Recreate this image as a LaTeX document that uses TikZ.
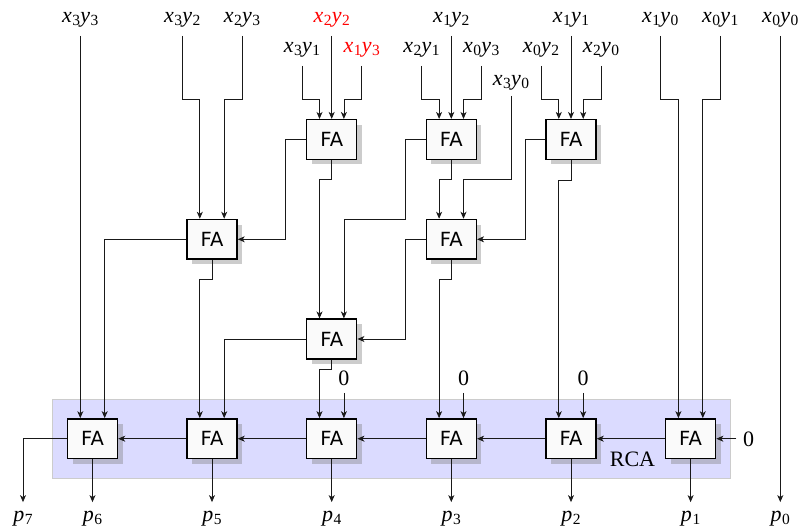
\documentclass[tikz,border=0pt]{standalone}
\usepackage{fontspec}
\setmainfont{Liberation Serif}
\setsansfont{DejaVu Sans}
\usetikzlibrary{arrows.meta,shadows,calc}
\newcommand{\sbs}[1]{\raisebox{-3.2pt}{\fontsize{15.5}{15.5}\selectfont #1}}
\newcommand{\pr}[2]{\textit{x}\kern0.4pt\sbs{#1}\kern0.3pt\textit{y}\kern0.4pt\sbs{#2}}
\newcommand{\pp}[1]{\textit{p}\kern0.6pt\sbs{#1}}
\tikzset{
  fa/.style={draw=black,line width=1.5pt,fill=black!2,minimum width=50pt,minimum height=39.6pt,inner sep=0pt,
    font=\sffamily\fontsize{19.5}{20}\selectfont,
    general shadow={shadow xshift=5pt,shadow yshift=-5pt,fill=black!50,fill opacity=0.4}},
  lbl/.style={inner sep=0pt,text height=11pt,text depth=5pt,font=\fontsize{22}{24}\selectfont},
  wire/.style={line width=0.8pt,black!90},
  arr/.style={wire,-{Stealth[length=7pt,width=6pt,inset=2pt]}},
  band/.style={draw=black!20,line width=1pt,fill=blue!14}
}
\begin{document}
\begin{tikzpicture}[x=1pt,y=-1pt]
\useasboundingbox (0,0) rectangle (801,531);
\node[band,minimum width=678pt,minimum height=79.3pt,inner sep=0pt] (rca) at (391.3,438.7) {};
% adders
\foreach \n/\x/\y in {a/331.7/139.5,b/451.3/139.5,c/571/139.5,d/212/239.3,e/451.3/239.3,f/331.7/339,
  g/92.5/438.7,h/212/438.7,i/331.7/438.7,j/451.3/438.7,k/571/438.7,l/690.6/438.7}
  \node[fa] (\n) at (\x,\y) {FA};
% labels
\node[lbl] (x3y3) at (80.3,19) {\pr33};
\node[lbl] (x3y2) at (182.3,19) {\pr32};
\node[lbl] (x2y3) at (242,19) {\pr23};
\node[lbl,red] (x2y2) at (331.7,19) {\pr22};
\node[lbl] (x1y2) at (451.3,19) {\pr12};
\node[lbl] (x1y1) at (571,19) {\pr11};
\node[lbl] (x1y0) at (660.3,19) {\pr10};
\node[lbl] (x0y1) at (720.3,19) {\pr01};
\node[lbl] (x0y0) at (780.3,19) {\pr00};
\node[lbl] (x3y1) at (302,49) {\pr31};
\node[lbl,red] (x1y3) at (361.7,49) {\pr13};
\node[lbl] (x2y1) at (421.5,49) {\pr21};
\node[lbl] (x0y3) at (481.3,49) {\pr03};
\node[lbl] (x0y2) at (541,49) {\pr02};
\node[lbl] (x2y0) at (601,49) {\pr20};
\node[lbl] (x3y0) at (511,82) {\pr30};
\foreach \n/\x/\t in {p7/23/7,p6/92.5/6,p5/212/5,p4/331.7/4,p3/451.3/3,p2/571/2,p1/690.6/1,p0/780.3/0}
  \node[lbl] (\n) at (\x,518.6) {\pp{\t}};
\foreach \n/\x in {zi/343.9,zj/463.5,zk/583.2}
  \node[lbl] (\n) at (\x,382) {0};
\node[lbl] (zl) at (748.7,443) {0};
\node[lbl] (rcat) at (632.5,463) {RCA};
% helper offsets
\def\dx{12.2}
\def\st{8.7}
% row 1 inputs
\draw[arr] (x3y1.south) ++(0,\st) coordinate (s) -- (s |- 0,99.5) -| ($(a.north)+(-\dx,0)$);
\draw[arr] (x2y2.south) ++(0,\st) -- (a.north);
\draw[arr] (x1y3.south) ++(0,\st) coordinate (s) -- (s |- 0,99.5) -| ($(a.north)+(\dx,0)$);
\draw[arr] (x2y1.south) ++(0,\st) coordinate (s) -- (s |- 0,99.5) -| ($(b.north)+(-\dx,0)$);
\draw[arr] (x1y2.south) ++(0,\st) -- (b.north);
\draw[arr] (x0y3.south) ++(0,\st) coordinate (s) -- (s |- 0,99.5) -| ($(b.north)+(\dx,0)$);
\draw[arr] (x0y2.south) ++(0,\st) coordinate (s) -- (s |- 0,99.5) -| ($(c.north)+(-\dx,0)$);
\draw[arr] (x1y1.south) ++(0,\st) -- (c.north);
\draw[arr] (x2y0.south) ++(0,\st) coordinate (s) -- (s |- 0,99.5) -| ($(c.north)+(\dx,0)$);
% row 2 inputs
\draw[arr] (x3y2.south) ++(0,\st) coordinate (s) -- (s |- 0,99.5) -| ($(d.north)+(-\dx,0)$);
\draw[arr] (x2y3.south) ++(0,\st) coordinate (s) -- (s |- 0,99.5) -| ($(d.north)+(\dx,0)$);
\draw[arr] (a.west) -- ++(-20.5,0) coordinate (s) -- (s |- d.east) -- (d.east);
\draw[arr] (b.south) -- ++(0,19.5) -| ($(e.north)+(-\dx,0)$);
\draw[arr] (x3y0.south) ++(0,5.7) coordinate (s) -- (s |- 0,179.5) -| ($(e.north)+(\dx,0)$);
\draw[arr] (c.west) -- ++(-20,0) coordinate (s) -- (s |- e.east) -- (e.east);
% row 3 inputs
\draw[arr] (a.south) -- ++(0,19.5) -| ($(f.north)+(-\dx,0)$);
\draw[arr] (b.west) -- ++(-20,0) coordinate (s) -- (s |- 0,219.3) -| ($(f.north)+(\dx,0)$);
\draw[arr] (e.west) -- ++(-20,0) coordinate (s) -- (s |- f.east) -- (f.east);
% row 4
\draw[arr] (x3y3.south) ++(0,\st) -- ($(g.north)+(-\dx,0)$);
\draw[arr] (d.west) -| ($(g.north)+(\dx,0)$);
\draw[arr] (d.south) -- ++(0,20) -| ($(h.north)+(-\dx,0)$);
\draw[arr] (f.west) -| ($(h.north)+(\dx,0)$);
\draw[arr] (f.south) -- ++(0,10) -| ($(i.north)+(-\dx,0)$);
\draw[arr] (zi.south) ++(0,2.7) -- ($(i.north)+(\dx,0)$);
\draw[arr] (e.south) -- ++(0,20) -| ($(j.north)+(-\dx,0)$);
\draw[arr] (zj.south) ++(0,2.7) -- ($(j.north)+(\dx,0)$);
\draw[arr] (c.south) -- ++(0,20) -| ($(k.north)+(-\dx,0)$);
\draw[arr] (zk.south) ++(0,2.7) -- ($(k.north)+(\dx,0)$);
\draw[arr] (x1y0.south) ++(0,\st) coordinate (s) -- (s |- 0,99.5) -| ($(l.north)+(-\dx,0)$);
\draw[arr] (x0y1.south) ++(0,\st) coordinate (s) -- (s |- 0,99.5) -| ($(l.north)+(\dx,0)$);
% carries
\draw[arr] ($(zl.west |- l.east)+(-6.7,0)$) -- (l.east);
\draw[arr] (l.west) -- (k.east);
\draw[arr] (k.west) -- (j.east);
\draw[arr] (j.west) -- (i.east);
\draw[arr] (i.west) -- (h.east);
\draw[arr] (h.west) -- (g.east);
% outputs
\draw[arr] (g.west) -| ($(p7.north)+(0,-8.3)$);
\draw[arr] (g.south) -- ($(p6.north)+(0,-8.3)$);
\draw[arr] (h.south) -- ($(p5.north)+(0,-8.3)$);
\draw[arr] (i.south) -- ($(p4.north)+(0,-8.3)$);
\draw[arr] (j.south) -- ($(p3.north)+(0,-8.3)$);
\draw[arr] (k.south) -- ($(p2.north)+(0,-8.3)$);
\draw[arr] (l.south) -- ($(p1.north)+(0,-8.3)$);
\draw[arr] (x0y0.south) ++(0,\st) -- ($(p0.north)+(0,-8.3)$);
\end{tikzpicture}
\end{document}
